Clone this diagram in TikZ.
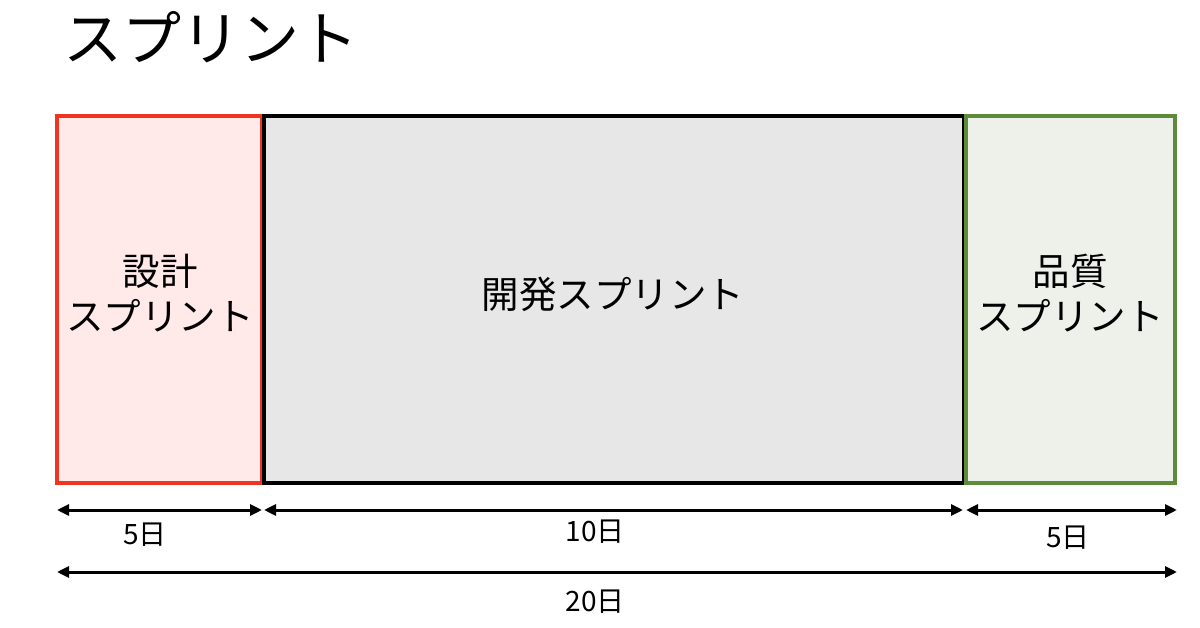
\documentclass[tikz,border=0pt]{standalone}
\usepackage{fontspec}
\setmainfont{Noto Sans CJK JP}
\usetikzlibrary{arrows.meta}
\definecolor{redline}{HTML}{EE3524}
\definecolor{redfill}{HTML}{FFE9E9}
\definecolor{grayfill}{HTML}{E7E7E7}
\definecolor{greenline}{HTML}{5E8A3C}
\definecolor{greenfill}{HTML}{EEF0EA}
\tikzset{
  phase/.style={draw, line width=4pt, anchor=north west, inner sep=0pt, outer sep=0pt, minimum height=367pt},
  phasetext/.style={inner sep=0pt, align=center, font=\fontsize{37.5}{45}\selectfont},
  dim/.style={line width=3pt, {Triangle[length=12pt,width=11pt]}-{Triangle[length=12pt,width=11pt]}},
  dimlabel/.style={inner sep=0pt, font=\fontsize{28}{30}\selectfont},
}
\begin{document}
\begin{tikzpicture}[x=1pt,y=-1pt]
\useasboundingbox[fill=white] (0,0) rectangle (1200,628);
\node[anchor=west, inner sep=0pt, font=\fontsize{59}{60}\selectfont] (title) at (63,37) {スプリント};
\node[phase, draw=redline, fill=redfill, minimum width=205pt] (design) at (57,116) {};
\node[phase, draw=black, fill=grayfill, minimum width=700pt] (dev) at (264,116) {};
\node[phase, draw=greenline, fill=greenfill, minimum width=209pt] (qa) at (966,116) {};
\node[phasetext] (designtext) at (160,293) {設計\\スプリント};
\node[phasetext] (devtext) at (613,294) {開発スプリント};
\node[phasetext] (qatext) at (1070,293) {品質\\スプリント};
\coordinate (a0) at (57,510);
\coordinate (a1) at (262,510);
\coordinate (a2) at (264,510);
\coordinate (a3) at (963,510);
\coordinate (a4) at (966,510);
\coordinate (a5) at (1177,510);
\coordinate (b0) at (57,572);
\coordinate (b1) at (1177,572);
\draw[dim] (a0) -- (a1);
\draw[dim] (a2) -- (a3);
\draw[dim] (a4) -- (a5);
\draw[dim] (b0) -- (b1);
\node[dimlabel] (l1) at (145,535) {5日};
\node[dimlabel] (l2) at (595,532) {10日};
\node[dimlabel] (l3) at (1068,538) {5日};
\node[dimlabel] (l4) at (595,602) {20日};
\end{tikzpicture}
\end{document}
